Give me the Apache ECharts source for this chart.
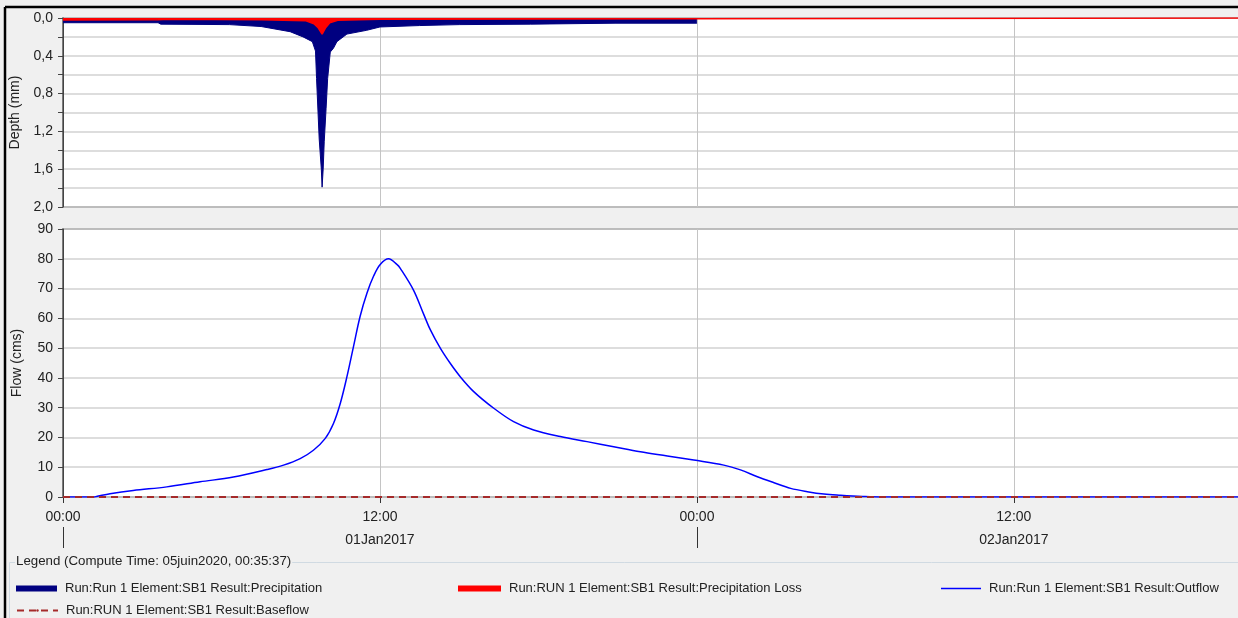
<!DOCTYPE html>
<html>
<head>
    <meta charset="utf-8" />
    <script src="https://cdn.jsdelivr.net/npm/echarts@6/dist/echarts.min.js"></script>
    <style type="text/css">
    html, body { margin: 0; padding: 0; background-color: #f0f0f0; }
    #chart { width: 1238px; height: 618px; }
    </style>
</head>
<body>
    <div id="chart"></div>
    <script type="text/javascript">
    // hours since 01Jan2017 00:00
    const X_MAX = 44.6;

    const precipHours = [0, 3.6, 3.7, 6.3, 7.5, 8.6, 9.09, 9.44, 9.56, 9.6, 9.7, 9.78, 9.81, 9.85, 9.89, 9.96, 10.02, 10.12, 10.24, 10.37, 10.75, 11.5, 12.0, 13.5, 15, 17.7, 20.9, 24];
    const precipDepth = [0.05, 0.05, 0.065, 0.07, 0.09, 0.145, 0.2, 0.25, 0.35, 0.64, 1.28, 1.6, 1.79, 1.6, 1.31, 0.96, 0.64, 0.36, 0.32, 0.25, 0.17, 0.13, 0.095, 0.08, 0.07, 0.065, 0.055, 0.055];

    const lossHours = [0, 3.6, 4, 7.5, 9.2, 9.5, 9.65, 9.81, 9.95, 10.1, 10.4, 12, 24, 24.01, X_MAX];
    const lossDepth = [0.02, 0.018, 0.012, 0.018, 0.03, 0.06, 0.1, 0.17, 0.1, 0.05, 0.025, 0.012, 0.008, 0, 0];

    const outflowHours = [0, 1.2, 1.27, 1.78, 2.66, 3.93, 5.19, 6.45, 7.72, 8.35, 8.98, 9.48, 9.93, 10.24, 10.5, 10.75, 11.0, 11.25, 11.51, 11.76, 12.01, 12.33, 12.64, 12.77, 13.27, 13.65, 13.91, 14.29, 14.66, 15.04, 15.55, 16.31, 17.06, 17.82, 18.83, 19.84, 20.85, 21.86, 22.88, 23.88, 25.02, 25.65, 26.29, 26.92, 27.55, 28.18, 28.81, 29.44, 30.27, 31.0, X_MAX];
    const outflowCms = [0, 0, 0.2, 1.1, 2.2, 3.4, 5.1, 6.7, 9.2, 10.7, 12.9, 15.7, 19.7, 24.7, 31.5, 40.4, 50.6, 60.7, 68.5, 74.2, 78.1, 80, 78.1, 76.8, 69.5, 61.5, 56.1, 49.9, 44.9, 40.4, 35.4, 29.8, 25.3, 22.5, 20.3, 18.6, 16.9, 15.2, 13.8, 12.4, 10.7, 9.1, 6.8, 4.8, 2.9, 1.8, 1.0, 0.6, 0.2, 0, 0];

    const baseHours = [0, X_MAX];
    const baseCms = [0, 0];

    const dayNames = ['01Jan2017', '02Jan2017'];
    const names = [
        'Run:Run 1 Element:SB1 Result:Precipitation',
        'Run:RUN 1 Element:SB1 Result:Precipitation Loss',
        'Run:Run 1 Element:SB1 Result:Outflow',
        'Run:RUN 1 Element:SB1 Result:Baseflow'
    ];

    function pairs(xs, ys) {
        return xs.map(function (x, i) { return [x, ys[i]]; });
    }

    const FONT = 'Liberation Sans';
    const txt = { fontFamily: FONT, fontSize: 14, color: '#222' };

    function legendBox(i, left, top, w, h, icon) {
        let item = { name: names[i] };
        if (icon) item.icon = icon;
        return {
            data: [item], left: left, top: top, itemWidth: w, itemHeight: h,
            selectedMode: false, padding: 0,
            itemStyle: { borderWidth: 0 },
            textStyle: { fontFamily: FONT, fontSize: 13, color: '#222', padding: [0, 0, 0, 3] }
        };
    }

    let chart = echarts.init(document.getElementById('chart'));
    chart.setOption({
        backgroundColor: '#f0f0f0',
        animation: false,
        grid: [
            { left: 63, top: 18, right: -3, height: 189, outerBoundsMode: 'none', show: true, backgroundColor: '#fff', borderColor: '#555', borderWidth: 1.5 },
            { left: 63, top: 229, right: -3, height: 268, outerBoundsMode: 'none', show: true, backgroundColor: '#fff', borderColor: '#555', borderWidth: 1.5 }
        ],
        xAxis: [
            {
                gridIndex: 0, type: 'value', min: 0, max: X_MAX, interval: 12,
                axisLine: { show: false }, axisTick: { show: false }, axisLabel: { show: false },
                splitLine: { lineStyle: { color: '#c4c4c4', width: 1 } }
            },
            {
                gridIndex: 1, type: 'value', min: 0, max: X_MAX, interval: 12,
                axisLine: { show: false },
                axisTick: { customValues: [0, 12, 24, 36], length: 6, lineStyle: { color: '#333' } },
                axisLabel: Object.assign({ customValues: [0, 12, 24, 36], margin: 13, formatter: function (v) { return v % 24 === 0 ? '00:00' : '12:00'; } }, txt),
                splitLine: { lineStyle: { color: '#c4c4c4', width: 1 } }
            },
            {
                gridIndex: 1, type: 'value', min: 0, max: X_MAX, position: 'bottom', offset: 30,
                axisLine: { show: false },
                axisTick: { customValues: [0, 24], length: 21, lineStyle: { color: '#333' } },
                axisLabel: Object.assign({ customValues: [12, 36], margin: 6, formatter: function (v) { return dayNames[Math.floor(v / 24)]; } }, txt),
                splitLine: { show: false }
            }
        ],
        yAxis: [
            {
                gridIndex: 0, type: 'value', inverse: true, min: 0, max: 2, interval: 0.2,
                name: 'Depth (mm)', nameLocation: 'middle', nameGap: 39, nameTextStyle: txt,
                axisLine: { show: true, lineStyle: { color: '#444' } },
                axisTick: { show: true, length: 5, lineStyle: { color: '#444' } },
                axisLabel: Object.assign({ margin: 10, formatter: function (v) {
                    return Math.round(v * 10) % 4 === 0 ? v.toFixed(1).replace('.', ',') : '';
                } }, txt),
                splitLine: { lineStyle: { color: '#d2d2d2', width: 1.5 } }
            },
            {
                gridIndex: 1, type: 'value', min: 0, max: 90, interval: 10,
                name: 'Flow (cms)', nameLocation: 'middle', nameGap: 39, nameTextStyle: txt,
                axisLine: { show: true, lineStyle: { color: '#444' } },
                axisTick: { show: true, length: 5, lineStyle: { color: '#444' } },
                axisLabel: Object.assign({ margin: 10 }, txt),
                splitLine: { lineStyle: { color: '#d2d2d2', width: 1.5 } }
            }
        ],
        legend: [
            legendBox(0, 16, 582, 41, 6, 'rect'),
            legendBox(1, 458, 582, 43, 6, 'rect'),
            legendBox(2, 941, 582, 40, 1.5, 'rect'),
            legendBox(3, 16, 604, 41, 3)
        ],
        series: [
            {
                name: names[0], type: 'line', xAxisIndex: 0, yAxisIndex: 0,
                data: pairs(precipHours, precipDepth), symbol: 'none',
                color: '#000080',
                lineStyle: { color: '#000080', width: 1 },
                areaStyle: { color: '#000080', opacity: 1 }
            },
            {
                name: names[1], type: 'line', xAxisIndex: 0, yAxisIndex: 0,
                data: pairs(lossHours, lossDepth), symbol: 'none',
                color: '#ff0000',
                lineStyle: { color: '#ff0000', width: 1.5 },
                areaStyle: { color: '#ff0000', opacity: 1 }
            },
            {
                name: names[2], type: 'line', xAxisIndex: 1, yAxisIndex: 1,
                data: pairs(outflowHours, outflowCms), symbol: 'none',
                smooth: 0.35,
                color: '#0000ff',
                lineStyle: { color: '#0000ff', width: 1.5 }
            },
            {
                name: names[3], type: 'line', xAxisIndex: 1, yAxisIndex: 1,
                data: pairs(baseHours, baseCms), symbol: 'none',
                color: '#a52a2a',
                lineStyle: { color: '#a52a2a', width: 2, type: [7, 5] }
            }
        ],
        graphic: [
            { type: 'line', shape: { x1: 5, y1: 7, x2: 1238, y2: 7 }, style: { stroke: '#000', lineWidth: 2.5 } },
            { type: 'line', shape: { x1: 5, y1: 7, x2: 5, y2: 618 }, style: { stroke: '#000', lineWidth: 2.5 } },
            { type: 'rect', shape: { x: 9.5, y: 562.5, width: 1240, height: 80 }, style: { fill: 'none', stroke: '#d0dae2', lineWidth: 1 } },
            {
                type: 'text', left: 15, top: 555,
                style: { text: 'Legend (Compute Time: 05juin2020, 00:35:37)', fontFamily: FONT, fontSize: 13.3, fill: '#222', backgroundColor: '#f0f0f0', padding: [0, 1] }
            }
        ]
    });
    </script>
</body>
</html>
